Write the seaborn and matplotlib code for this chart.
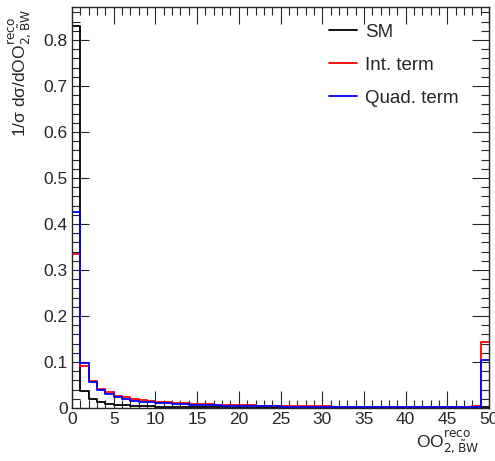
import numpy as np
import pandas as pd
import matplotlib
matplotlib.use("Agg")
import matplotlib.pyplot as plt
import seaborn as sns
from matplotlib.ticker import MultipleLocator

# bin contents, 50 bins of width 1 from 0 to 50
sm = [0.830, 0.038, 0.019, 0.013, 0.009, 0.007, 0.006, 0.005, 0.004, 0.004,
      0.003, 0.003, 0.003, 0.002, 0.002, 0.002, 0.002, 0.002, 0.002, 0.001,
      0.001, 0.001, 0.001, 0.001, 0.001, 0.001, 0.001, 0.001, 0.001, 0.001,
      0.001, 0.001, 0.001, 0.001, 0.001, 0.001, 0.001, 0.001, 0.001, 0.001,
      0.001, 0.001, 0.001, 0.001, 0.001, 0.001, 0.001, 0.001, 0.001, 0.002]
int_term = [0.335, 0.091, 0.058, 0.041, 0.035, 0.027, 0.023, 0.020, 0.017, 0.015,
            0.013, 0.012, 0.011, 0.010, 0.009, 0.008, 0.008, 0.007, 0.007, 0.006,
            0.006, 0.006, 0.005, 0.005, 0.005, 0.005, 0.004, 0.004, 0.004, 0.004,
            0.004, 0.003, 0.003, 0.003, 0.003, 0.003, 0.003, 0.003, 0.003, 0.003,
            0.003, 0.003, 0.003, 0.003, 0.003, 0.003, 0.003, 0.003, 0.004, 0.143]
quad_term = [0.427, 0.097, 0.057, 0.039, 0.031, 0.023, 0.019, 0.016, 0.014, 0.012,
             0.011, 0.010, 0.009, 0.008, 0.007, 0.007, 0.006, 0.006, 0.005, 0.005,
             0.005, 0.004, 0.004, 0.004, 0.004, 0.003, 0.003, 0.003, 0.003, 0.003,
             0.003, 0.003, 0.003, 0.002, 0.002, 0.002, 0.002, 0.002, 0.002, 0.002,
             0.002, 0.002, 0.002, 0.002, 0.002, 0.002, 0.002, 0.002, 0.002, 0.104]
labels = ["SM", "Int. term", "Quad. term"]
colors = ["black", "#ff0000", "#0000ff"]

centers = np.arange(50) + 0.5
df = pd.concat([
    pd.DataFrame({"x": centers, "w": vals, "sample": lab})
    for vals, lab in zip([sm, int_term, quad_term], labels)
])

sns.set_style("ticks")
plt.rcParams["font.family"] = ["Liberation Sans", "DejaVu Sans"]
plt.rcParams["mathtext.fontset"] = "dejavusans"

fig = plt.figure(figsize=(4.95, 4.61), dpi=100)
ax = fig.add_axes([0.1455, 0.115, 0.8425, 0.870])

for lab, col in zip(labels, colors):
    sns.histplot(data=df[df["sample"] == lab], x="x", weights="w", bins=50,
                 binrange=(0, 50), element="step", fill=False, color=col,
                 linewidth=1.3, ax=ax)

ax.set_xlim(0, 50)
ax.set_ylim(0, 0.872)
ax.xaxis.set_major_locator(MultipleLocator(5))
ax.xaxis.set_minor_locator(MultipleLocator(1))
ax.yaxis.set_minor_locator(MultipleLocator(0.02))
ax.set_yticks(np.arange(0, 0.81, 0.1))
ax.set_yticklabels(["0"] + [f"{v:.1f}" for v in np.arange(0.1, 0.81, 0.1)])
ax.tick_params(which="both", direction="in", top=True, right=True,
               labelsize=12.5, pad=3)
ax.tick_params(which="major", length=12, width=0.8)
ax.tick_params(which="minor", length=6, width=0.8)
for s in ax.spines.values():
    s.set_linewidth(1.0)

ax.set_xlabel(r"OO$^{\mathrm{reco}}_{\mathrm{2,\tilde{B}W}}$",
              fontsize=12.5, ha="right", va="center")
ax.xaxis.set_label_coords(0.975, -0.085)
ax.set_ylabel("1/σ dσ/dOO" + r"$^{\mathrm{reco}}_{\mathrm{2,\tilde{B}W}}$",
              fontsize=12.5, ha="right", va="center")
ax.yaxis.set_label_coords(-0.125, 0.995)

handles = [plt.Line2D([], [], color=c, lw=1.3) for c in colors]
ax.legend(handles, labels, loc="upper left", frameon=False, fontsize=13.5,
          handlelength=1.5, handletextpad=0.4, labelspacing=0.85,
          bbox_to_anchor=(0.576, 1.0))

fig.savefig("out.png", dpi=100)
